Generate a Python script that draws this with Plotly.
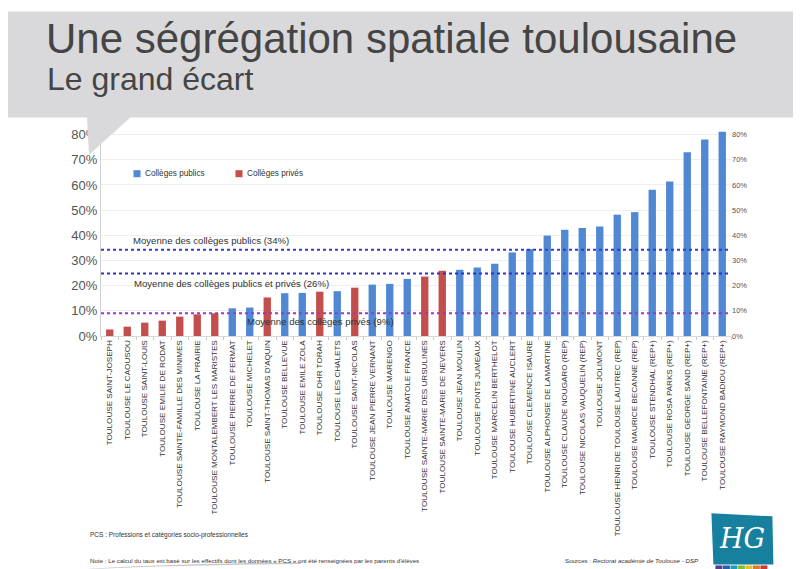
import plotly.graph_objects as go

# ---------------- data ----------------
colleges = [
    "TOULOUSE SAINT-JOSEPH", "TOULOUSE LE CAOUSOU", "TOULOUSE SAINT-LOUIS",
    "TOULOUSE EMILIE DE RODAT", "TOULOUSE SAINTE-FAMILLE DES MINIMES",
    "TOULOUSE LA PRAIRIE", "TOULOUSE MONTALEMBERT LES MARISTES",
    "TOULOUSE PIERRE DE FERMAT", "TOULOUSE MICHELET", "TOULOUSE SAINT-THOMAS D'AQUIN",
    "TOULOUSE BELLEVUE", "TOULOUSE EMILE ZOLA", "TOULOUSE OHR TORAH",
    "TOULOUSE LES CHALETS", "TOULOUSE SAINT-NICOLAS", "TOULOUSE JEAN PIERRE VERNANT",
    "TOULOUSE MARENGO", "TOULOUSE ANATOLE FRANCE", "TOULOUSE SAINTE-MARIE DES URSULINES",
    "TOULOUSE SAINTE-MARIE DE NEVERS", "TOULOUSE JEAN MOULIN", "TOULOUSE PONTS JUMEAUX",
    "TOULOUSE MARCELIN BERTHELOT", "TOULOUSE HUBERTINE AUCLERT", "TOULOUSE CLEMENCE ISAURE",
    "TOULOUSE ALPHONSE DE LAMARTINE", "TOULOUSE CLAUDE NOUGARO (REP)",
    "TOULOUSE NICOLAS VAUQUELIN (REP)", "TOULOUSE JOLIMONT",
    "TOULOUSE HENRI DE TOULOUSE LAUTREC (REP)", "TOULOUSE MAURICE BECANNE (REP)",
    "TOULOUSE STENDHAL (REP+)", "TOULOUSE ROSA PARKS (REP+)", "TOULOUSE GEORGE SAND (REP+)",
    "TOULOUSE BELLEFONTAINE (REP+)", "TOULOUSE RAYMOND BADIOU (REP+)",
]
pct_defavorises = [
    2.6, 3.7, 5.3, 6.1, 7.7, 8.6, 9.0, 11.0, 11.3, 15.3,
    17.0, 17.1, 17.6, 17.8, 19.2, 20.4, 20.7, 22.7, 23.6, 25.9,
    26.3, 27.2, 28.7, 33.2, 34.5, 39.9, 42.2, 42.9, 43.5, 48.2,
    49.2, 58.1, 61.4, 73.0, 78.0, 81.1,
]
secteur = [
    "privé", "privé", "privé", "privé", "privé", "privé", "privé",
    "public", "public", "privé", "public", "public", "privé", "public",
    "privé", "public", "public", "public", "privé", "privé",
    "public", "public", "public", "public", "public", "public", "public",
    "public", "public", "public", "public", "public", "public", "public",
    "public", "public",
]
legende = ["Collèges publics", "Collèges privés"]
moyenne_niveaux = [34.3, 24.8, 9.0]
moyenne_labels = [
    "Moyenne des collèges publics (34%)",
    "Moyenne des collèges publics et privés (26%)",
    "Moyenne des collèges privés (9%)",
]

# ---------------- geometry (page pixels; page body has an 8px margin) ----------------
W, H = 801, 569
OFF = 8
L, R, T, B = 100.5, 730.6, 122.4, 336.0


def px(x):
    return (x - L) / (R - L)


def py(y):
    return (B - y) / (B - T)


BLUE = "#5088d3"
RED = "#c24f4c"
FONT = "Liberation Sans, Arial, sans-serif"
colors = {"public": BLUE, "privé": RED}

fig = go.Figure()
for name, key in zip(legende, ["public", "privé"]):
    xs = [c for c, s in zip(colleges, secteur) if s == key]
    ys = [v for v, s in zip(pct_defavorises, secteur) if s == key]
    fig.add_trace(go.Bar(x=xs, y=ys, name=name, marker=dict(color=colors[key], line=dict(width=0)),
                         hovertemplate="%{x}<br>%{y}%<extra></extra>"))

# invisible trace on right axis so it is drawn
fig.add_trace(go.Scatter(x=[colleges[0]], y=[0], yaxis="y2", mode="lines",
                         line=dict(width=0), showlegend=False, hoverinfo="skip"))

shapes = []
annotations = []

# custom legend (squares + labels)
for (lx, tx), name, key in zip([(133, 143), (235, 245)], legende, ["public", "privé"]):
    shapes.append(dict(type="rect", xref="paper", yref="paper", x0=px(lx), x1=px(lx + 7),
                       y0=py(177.5), y1=py(170.5), fillcolor=colors[key], line=dict(width=0)))
    annotations.append(dict(text=name, xref="paper", yref="paper", x=px(tx), y=py(174),
                            xanchor="left", yanchor="middle", showarrow=False,
                            font=dict(family=FONT, size=8.2, color="#333")))

# average lines
line_cols = ["#3a36d0", "#3030c8", "#a035c8"]
label_shift = [9.5, -9.5, -8]
label_x = [130.5, 131.5, 245]
for lvl, lab, lc, sh, lx in zip(moyenne_niveaux, moyenne_labels, line_cols, label_shift, label_x):
    shapes.append(dict(type="line", xref="paper", yref="y", x0=0, x1=1, y0=lvl, y1=lvl,
                       line=dict(color=lc, width=2, dash="dot"), layer="above"))
    annotations.append(dict(text=lab, xref="paper", yref="y", x=px(lx), y=lvl, yshift=sh,
                            xanchor="left", yanchor="middle", showarrow=False,
                            font=dict(family=FONT, size=9.6, color="#333")))

# slide header band + speech pointer
shapes.append(dict(type="rect", xref="paper", yref="paper", x0=px(7), x1=px(820), y0=py(118), y1=py(12),
                   fillcolor="#d9d9db", line=dict(width=0), layer="above"))
shapes.append(dict(type="path", xref="paper", yref="paper",
                   path=f"M {px(86.5)},{py(117)} L {px(131)},{py(117)} L {px(88.5)},{py(155)} Z",
                   fillcolor="#d9d9db", line=dict(width=0), layer="above"))

annotations.append(dict(text="Une ségrégation spatiale toulousaine", xref="paper", yref="paper",
                        x=px(43), y=py(39), xanchor="left", yanchor="middle", showarrow=False,
                        font=dict(family=FONT, size=42, color="#454545")))
annotations.append(dict(text="Le grand écart", xref="paper", yref="paper",
                        x=px(44), y=py(79), xanchor="left", yanchor="middle", showarrow=False,
                        font=dict(family=FONT, size=32, color="#454545")))

# footnotes
annotations.append(dict(text="PCS : Professions et catégories socio-professionnelles", xref="paper", yref="paper",
                        x=px(87), y=py(535), xanchor="left", yanchor="middle", showarrow=False,
                        font=dict(family=FONT, size=6.5, color="#333")))
annotations.append(dict(text="Note : Le calcul du taux est basé sur les effectifs dont les données « PCS » ont été renseignées par les parents d'élèves",
                        xref="paper", yref="paper", x=px(87), y=py(560), xanchor="left", yanchor="middle",
                        showarrow=False, font=dict(family=FONT, size=6.2, color="#333")))
annotations.append(dict(text="Sources : <i>Rectorat académie de Toulouse - DSP</i>", xref="paper", yref="paper",
                        x=px(701), y=py(560), xanchor="right", yanchor="middle", showarrow=False,
                        font=dict(family=FONT, size=6.2, color="#333")))

# logo
shapes.append(dict(type="path", xref="paper", yref="paper",
                   path=f"M {px(711)},{py(513)} L {px(772)},{py(516)} L {px(773)},{py(564)} L {px(713)},{py(564)} Z",
                   fillcolor="#17809f", line=dict(width=0), layer="above"))
strip = ["#5b3b8c", "#2a5ea8", "#1d9bc0", "#86b83c", "#e6c12a", "#e07b25", "#cf3a35"]
sx0, sw = 715, 7.5
for i, c in enumerate(strip):
    shapes.append(dict(type="rect", xref="paper", yref="paper", x0=px(sx0 + i * sw), x1=px(sx0 + (i + 1) * sw - 0.5),
                       y0=py(569), y1=py(565), fillcolor=c, line=dict(width=0), layer="above"))
annotations.append(dict(text="<i>HG</i>", xref="paper", yref="paper", x=px(742), y=py(538),
                        xanchor="center", yanchor="middle", showarrow=False,
                        font=dict(family="DejaVu Serif, serif", size=27, color="white")))

# bottom-left grey swoosh
shapes.append(dict(type="path", xref="paper", yref="paper",
                   path=f"M {px(80)},{py(569)} Q {px(160)},{py(563)} {px(300)},{py(562)} L {px(300)},{py(563.5)} Q {px(160)},{py(565)} {px(80)},{py(569)} Z",
                   fillcolor="#c8c8c8", line=dict(width=0), layer="above"))

fig.update_layout(
    width=W, height=H,
    margin=dict(l=L - OFF, r=W - (R - OFF), t=T - OFF, b=H - (B - OFF), autoexpand=False),
    paper_bgcolor="white", plot_bgcolor="white",
    barmode="relative", bargap=0.58,
    font=dict(family=FONT, color="#333"),
    showlegend=False,
    xaxis=dict(type="category", categoryorder="array", categoryarray=colleges,
               range=[-0.5, len(colleges) - 0.5],
               tickangle=-90, tickfont=dict(family=FONT, size=8.1, color="#333"),
               showgrid=False, showline=True, linecolor="#d8d8d8", linewidth=1,
               ticks="outside", tickson="boundaries", ticklen=3, tickcolor="#c8c8c8",
               automargin=False),
    yaxis=dict(range=[0, 85], dtick=10, ticksuffix="%", showgrid=True, gridcolor="#efefef",
               zeroline=False, showline=True, linecolor="#d0d0d0",
               tickfont=dict(family=FONT, size=13, color="#555"), automargin=False),
    yaxis2=dict(range=[0, 85], dtick=10, ticksuffix="%", overlaying="y", side="right",
                showgrid=False, zeroline=False, showline=False,
                tickfont=dict(family=FONT, size=7.5, color="#555"), automargin=False),
    shapes=shapes, annotations=annotations,
)

fig.write_html("out.html")
